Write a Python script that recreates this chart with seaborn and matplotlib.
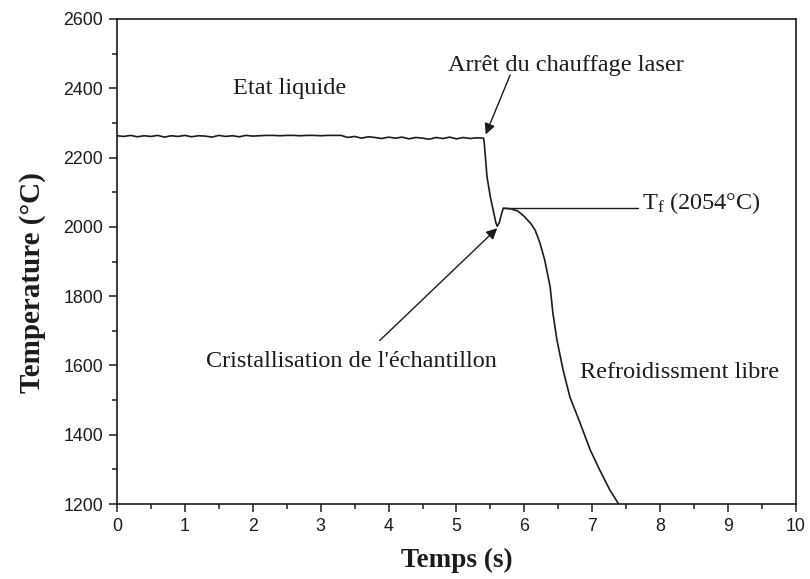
import numpy as np
import pandas as pd
import matplotlib
matplotlib.use("Agg")
import matplotlib.pyplot as plt
from matplotlib.ticker import MultipleLocator
import seaborn as sns

# Liquid plateau, sampled every 0.1 s from 0 to 5.4 s
plateau_time = [round(0.1 * i, 1) for i in range(55)]
plateau_temp = [
    2263, 2261, 2264, 2260, 2263, 2261, 2264, 2259, 2263, 2261, 2264,
    2260, 2263, 2262, 2259, 2264, 2261, 2263, 2260, 2264, 2262,
    2263, 2264, 2264, 2263, 2264, 2264, 2263, 2264, 2264, 2263,
    2264, 2264, 2264, 2258, 2261, 2256, 2260, 2258, 2255, 2259,
    2256, 2259, 2254, 2258, 2256, 2253, 2258, 2255, 2259, 2254,
    2258, 2255, 2257, 2256,
]

# Laser switched off: fast drop, undercooling, recalescence and free cooling
cooling_time = [5.41, 5.45, 5.50, 5.54, 5.58, 5.60, 5.63, 5.66, 5.69,
                5.80, 5.90, 6.00, 6.10, 6.16, 6.23, 6.30, 6.38, 6.42,
                6.48, 6.57, 6.67, 6.82, 6.97, 7.11, 7.26, 7.38, 7.40]
cooling_temp = [2240, 2144, 2085, 2049, 2012, 2002, 2012, 2035, 2054,
                2052, 2046, 2030, 2008, 1990, 1953, 1904, 1826, 1751,
                1673, 1587, 1509, 1434, 1356, 1298, 1240, 1203, 1196]

t_fusion = 2054
t_peak = 5.69

xticks = list(range(0, 11))
yticks = list(range(1200, 2601, 200))

df = pd.DataFrame({
    "Temps": plateau_time + cooling_time,
    "Temperature": plateau_temp + cooling_temp,
})

sns.set_style("ticks")
plt.rcParams["font.family"] = ["Liberation Sans", "DejaVu Sans"]
plt.rcParams["mathtext.fontset"] = "custom"
plt.rcParams["mathtext.rm"] = "Liberation Serif"
plt.rcParams["mathtext.it"] = "Liberation Serif:italic"

ink = "#1c1c1c"
fig = plt.figure(figsize=(8.10, 5.79), dpi=100)
ax = fig.add_axes([0.1444, 0.1295, 0.8383, 0.8377])

sns.lineplot(data=df, x="Temps", y="Temperature", ax=ax, color=ink,
             linewidth=1.2, sort=False, estimator=None)

ax.set_xlim(0, 10)
ax.set_ylim(1200, 2600)
ax.set_xticks(xticks)
ax.set_yticks(yticks)
ax.xaxis.set_minor_locator(MultipleLocator(0.5))
ax.yaxis.set_minor_locator(MultipleLocator(100))
ax.tick_params(which="major", direction="out", length=6, width=1.1,
               color=ink, labelsize=12.8, labelcolor=ink, pad=4)
ax.tick_params(which="minor", direction="out", length=3.5, width=1.1, color=ink)
for side in ["top", "right", "left", "bottom"]:
    ax.spines[side].set_visible(True)
    ax.spines[side].set_linewidth(1.2)
    ax.spines[side].set_color(ink)

serif = ["Liberation Serif", "DejaVu Serif"]
ax.set_xlabel("Temps (s)", family=serif, fontweight="bold", fontsize=19.5,
              color=ink, labelpad=9)
ax.set_ylabel("Temperature (°C)", family=serif, fontweight="bold",
              fontsize=21, color=ink)
ax.yaxis.set_label_coords(-0.104, 0.456)

txt = dict(family=serif, fontsize=17.5, color=ink)
ax.text(2.54, 2400, "Etat liquide", ha="center", va="center", **txt)
ax.text(8.28, 1580, "Refroidissment libre", ha="center", va="center", **txt)

arrow = dict(arrowstyle="-|>", color=ink, lw=1.0, mutation_scale=16,
             shrinkA=0, shrinkB=0)
ax.text(6.61, 2466, "Arrêt du chauffage laser", ha="center", va="center",
        **txt)
ax.annotate("", xy=(5.43, 2267), xytext=(5.79, 2438), arrowprops=arrow)
ax.text(3.45, 1612, "Cristallisation de l'échantillon", ha="center",
        va="center", **txt)
ax.annotate("", xy=(5.60, 1996), xytext=(3.87, 1672), arrowprops=arrow)

# Melting point marker
ax.plot([t_peak, 7.67], [t_fusion, t_fusion], color=ink, lw=1.0)
ax.text(7.73, t_fusion + 15, r"T$_\mathrm{f}$" + f" ({t_fusion}°C)",
        ha="left", va="center", **txt)

fig.savefig("out.png", dpi=100, facecolor="white")
